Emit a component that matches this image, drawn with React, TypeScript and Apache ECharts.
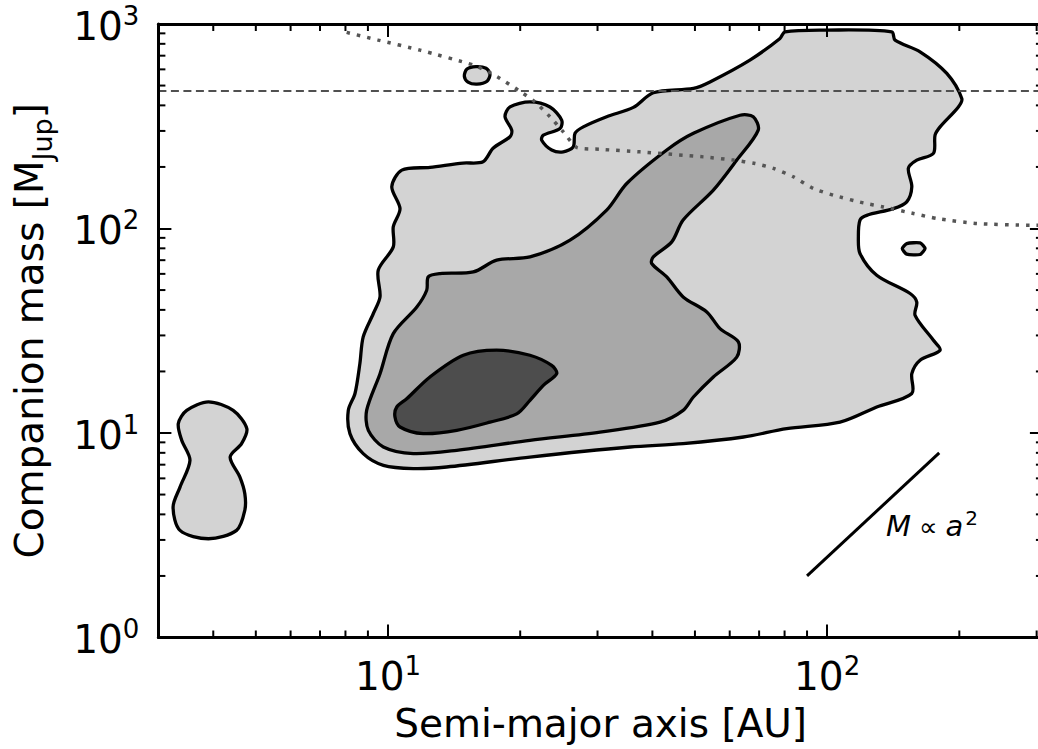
import React, { useEffect, useRef } from 'react';
import * as echarts from 'echarts';

const FONT = 'DejaVu Sans';

// axis ranges
const X_MIN = 3;
const X_MAX = 310;
const Y_MIN = 1;
const Y_MAX = 1000;

// minor tick values
const xMinorTicks = [4, 5, 6, 7, 8, 9, 20, 30, 40, 50, 60, 70, 80, 90, 200, 300];
const yMinorTicks = [2, 3, 4, 5, 6, 7, 8, 9, 20, 30, 40, 50, 60, 70, 80, 90, 200, 300, 400, 500, 600, 700, 800, 900];

// contour levels: [semi-major axis (AU), companion mass (MJup)]
const outerContour = [
  [10.2, 160], [10.75, 193], [12.46, 199], [14.82, 209], [16.46, 212], [17.35, 247], [18.96, 281],
  [19.13, 303], [18.47, 352], [18.96, 393], [21.05, 416], [23.38, 393], [24.86, 339], [24.64, 308],
  [22.58, 286], [22.39, 270], [23.59, 242], [25.07, 237], [26.42, 251], [26.66, 292], [27.84, 314],
  [31.47, 352], [36.2, 391], [40.2, 461], [49.6, 484], [54.1, 521], [66.7, 666], [78.1, 850],
  [80.2, 916], [99.8, 934], [140.3, 916], [142.8, 834], [162.8, 731], [187.3, 573], [202.6, 432],
  [199, 393], [180.8, 314], [176.1, 286], [174.6, 233], [160, 216], [153.1, 197], [155.9, 160],
  [151.8, 135], [141.5, 125], [123.1, 116], [118.8, 110], [117.8, 91], [118.8, 75.5], [129.7, 59.1],
  [154.5, 48.1], [160, 43.7], [158.6, 37.6], [174.6, 28.4], [180.8, 25.4], [162.8, 22.7],
  [155.9, 19.5], [155.9, 15.6], [129.7, 13.4], [107, 11.3], [80.9, 10.5], [64.5, 9.56], [47, 8.87],
  [35.6, 8.54], [21.05, 7.63], [13.6, 6.82], [11.42, 6.7], [9.76, 6.95], [8.78, 7.93], [8.19, 9.93],
  [8.12, 12.9], [8.41, 15.6], [8.63, 21.9], [8.78, 29.5], [9.26, 38.4], [9.59, 46.3], [9.5, 62.5],
  [10.28, 81.3], [10.28, 102], [10.65, 125],
];

const middleContour = [
  [12.35, 58], [13.14, 60.2], [15.64, 61.3], [17.68, 70], [21.05, 72.6], [25.97, 87.7], [31.47, 123],
  [34.97, 166], [43.13, 242], [49.6, 292], [63.34, 358], [67.88, 352], [69.68, 303], [62.26, 216],
  [55.07, 154], [47, 110], [44.28, 86], [40.2, 72.6], [39.86, 67.4], [43.13, 58], [47, 46.3],
  [53.2, 39.1], [57.03, 32.4], [62.79, 27.9], [62.26, 23.5], [55.07, 18.8], [49.6, 15], [47, 12.9],
  [41.64, 11.3], [30.4, 10.1], [21.05, 9.21], [14.34, 8.23], [11.42, 7.93], [9.76, 8.54],
  [9.02, 10.3], [8.94, 12.9], [9.59, 19.5], [10.28, 30.6], [11.63, 41.3], [12.25, 49.9],
];

const innerContour = [
  [10.37, 12], [10.47, 13.4], [11.03, 14.7], [12.46, 18.8], [14.84, 24], [17.68, 25.4], [21.05, 24],
  [23.59, 21.4], [24.22, 19.5], [22.58, 17.1], [21.05, 14.45], [19.64, 12.4], [17.07, 11.3],
  [14.34, 10.3], [12.03, 9.93], [10.65, 10.7],
];

const leftIsland = [
  [3.9, 14.2], [4.44, 12.9], [4.77, 10.5], [4.64, 8.87], [4.37, 7.63], [4.6, 6.09], [4.72, 5.05],
  [4.72, 4.19], [4.52, 3.34], [3.9, 3.04], [3.36, 3.34], [3.24, 4.35], [3.36, 5.44], [3.54, 7.35],
  [3.39, 9.21], [3.33, 11.12], [3.48, 12.9],
];

const topIsland = [
  [14.92, 556], [15.13, 602], [15.86, 619], [16.72, 608], [17.07, 569], [16.81, 525], [15.94, 508], [15.21, 520],
];

const rightIsland = [
  [148.3, 79.8], [151.8, 84.4], [162.8, 85], [167.1, 79.8], [162.8, 74.6], [151.8, 74.9],
];

// dotted limit curve
const dottedCurve = [
  [8.05, 910], [9.5, 834], [11.83, 745], [15.64, 630], [16.92, 584], [17.99, 542], [19.8, 475],
  [21.62, 416], [23.38, 352], [25.07, 297], [26.9, 249], [30.4, 244], [37.49, 237], [52.25, 224],
  [61.14, 216], [68.5, 208], [75.41, 197], [83.75, 179], [93, 157], [103.3, 145.5], [120.9, 133.4],
  [134.3, 127.5], [157.2, 118.4], [177.7, 111.9], [219.1, 105.8], [289.8, 103.8], [310, 103.8],
];

// dashed horizontal level
const dashedLevel = 470;
const dashedLine = [[X_MIN, dashedLevel], [X_MAX, dashedLevel]];

// M ∝ a^2 guide
const slopeLine = [[90, 2], [180, 8]];

const tickFormatter = (v: number) => {
  const l = Math.log10(v);
  const e = Math.round(l);
  if (Math.abs(l - e) > 1e-6) return '';
  return `{b|10}{s|${e}}`;
};

const tickRich = {
  b: { fontSize: 39, fontFamily: FONT, color: '#000', lineHeight: 43, verticalAlign: 'bottom' },
  s: { fontSize: 26, fontFamily: FONT, color: '#000', lineHeight: 26, verticalAlign: 'top' },
};

const axisLine = { show: true, onZero: false, lineStyle: { color: '#000', width: 3 } };
const axisTick = { show: true, inside: true, length: 13, lineStyle: { color: '#000', width: 2 } };
const MINOR_LEN = 7;

function polySeries(pts: number[][], fill: string, smooth: number, z: number) {
  return {
    type: 'custom',
    coordinateSystem: 'cartesian2d',
    xAxisIndex: 0,
    yAxisIndex: 0,
    silent: true,
    z,
    data: pts,
    encode: { x: 0, y: 1 },
    renderItem: (params: any, api: any) => {
      if (params.dataIndex !== 0) return null;
      const points = pts.map((p) => api.coord(p));
      return {
        type: 'polygon',
        shape: { points, smooth },
        style: { fill, stroke: '#000', lineWidth: 3.3, lineJoin: 'round' },
      };
    },
  };
}

function buildOption() {
  return {
    animation: false,
    backgroundColor: '#fff',
    textStyle: { fontFamily: FONT },
    grid: { left: 158.4, top: 24, right: -4.9, bottom: 111.5, containLabel: false, outerBoundsMode: 'none' },
    xAxis: [
      {
        type: 'log', logBase: 10, min: X_MIN, max: X_MAX, position: 'bottom', z: 10,
        axisLine, axisTick,
        splitLine: { show: false },
        axisLabel: { formatter: tickFormatter, rich: tickRich, margin: 15 },
        name: 'Semi-major axis [AU]', nameLocation: 'middle', nameGap: 66,
        nameTextStyle: { fontSize: 39, fontFamily: FONT, color: '#000' },
      },
      {
        type: 'log', logBase: 10, min: X_MIN, max: X_MAX, position: 'top', z: 10,
        axisLine, axisTick, splitLine: { show: false }, axisLabel: { show: false },
      },
    ],
    yAxis: [
      {
        type: 'log', logBase: 10, min: Y_MIN, max: Y_MAX, position: 'left', z: 10,
        axisLine, axisTick,
        splitLine: { show: false },
        axisLabel: { formatter: tickFormatter, rich: tickRich, margin: 19 },
        name: '{n|Companion mass [M}{sub|Jup}{n|]}', nameLocation: 'middle', nameGap: 102,
        nameTextStyle: {
          rich: {
            n: { fontSize: 39, fontFamily: FONT, color: '#000', lineHeight: 46, verticalAlign: 'top' },
            sub: { fontSize: 27, fontFamily: FONT, color: '#000', lineHeight: 27, verticalAlign: 'bottom' },
          },
        },
      },
      {
        type: 'log', logBase: 10, min: Y_MIN, max: Y_MAX, position: 'right', z: 10,
        axisLine, axisTick, splitLine: { show: false }, axisLabel: { show: false },
      },
    ],
    series: [
      polySeries(outerContour, '#d3d3d3', 0.3, 2),
      polySeries(middleContour, '#a8a8a8', 0.3, 3),
      polySeries(innerContour, '#4d4d4d', 0.3, 4),
      polySeries(leftIsland, '#d3d3d3', 0.3, 2),
      polySeries(topIsland, '#d3d3d3', 0.3, 2),
      polySeries(rightIsland, '#d3d3d3', 0.2, 2),
      {
        type: 'line', data: dashedLine, symbol: 'none', z: 5, silent: true,
        lineStyle: { color: '#505050', width: 2, type: [8, 4.5] },
      },
      {
        type: 'line', data: dottedCurve, symbol: 'none', z: 6, silent: true, smooth: 0.2,
        lineStyle: { color: '#555', width: 3.5, type: [3.5, 7], cap: 'butt' },
      },
      {
        type: 'line', data: slopeLine, symbol: 'none', z: 6, silent: true,
        lineStyle: { color: '#000', width: 3 },
      },
      {
        type: 'custom', coordinateSystem: 'cartesian2d', silent: true, z: 11, clip: false,
        data: xMinorTicks.map((v) => [v, Y_MIN]), encode: { x: 0, y: 1 },
        renderItem: (params: any, api: any) => {
          const v = api.value(0);
          const b = api.coord([v, Y_MIN]);
          const t = api.coord([v, Y_MAX]);
          const st = { stroke: '#000', lineWidth: 2 };
          return {
            type: 'group',
            children: [
              { type: 'line', shape: { x1: b[0], y1: b[1], x2: b[0], y2: b[1] - MINOR_LEN }, style: st },
              { type: 'line', shape: { x1: t[0], y1: t[1], x2: t[0], y2: t[1] + MINOR_LEN }, style: st },
            ],
          };
        },
      },
      {
        type: 'custom', coordinateSystem: 'cartesian2d', silent: true, z: 11, clip: false,
        data: yMinorTicks.map((v) => [X_MIN, v]), encode: { x: 0, y: 1 },
        renderItem: (params: any, api: any) => {
          const v = api.value(1);
          const l = api.coord([X_MIN, v]);
          const r = api.coord([X_MAX, v]);
          const st = { stroke: '#000', lineWidth: 2 };
          return {
            type: 'group',
            children: [
              { type: 'line', shape: { x1: l[0], y1: l[1], x2: l[0] + MINOR_LEN, y2: l[1] }, style: st },
              { type: 'line', shape: { x1: r[0], y1: r[1], x2: r[0] - MINOR_LEN, y2: r[1] }, style: st },
            ],
          };
        },
      },
    ],
    graphic: [
      {
        type: 'text', x: 886, y: 524, z: 20, silent: true,
        style: {
          text: '{i|M}{p|∝}{i|a}{s|2}',
          verticalAlign: 'middle',
          rich: {
            i: { fontSize: 29, fontFamily: FONT, fontStyle: 'italic', fill: '#000', lineHeight: 32, verticalAlign: 'bottom' },
            p: { fontSize: 26, fontFamily: FONT, fill: '#000', lineHeight: 32, verticalAlign: 'bottom', padding: [0, 8, 0, 8] },
            s: { fontSize: 20, fontFamily: FONT, fill: '#000', lineHeight: 20, verticalAlign: 'top', padding: [0, 0, 0, 2] },
          },
        },
      },
    ],
  };
}

export default function App() {
  const ref = useRef<HTMLDivElement>(null);
  useEffect(() => {
    const chart = echarts.init(ref.current as HTMLDivElement, null, { renderer: 'svg' });
    chart.setOption(buildOption() as any);
    return () => chart.dispose();
  }, []);
  return (
    <div
      ref={ref}
      style={{ position: 'fixed', left: 0, top: 0, width: 1038, height: 749, background: '#fff' }}
    />
  );
}
